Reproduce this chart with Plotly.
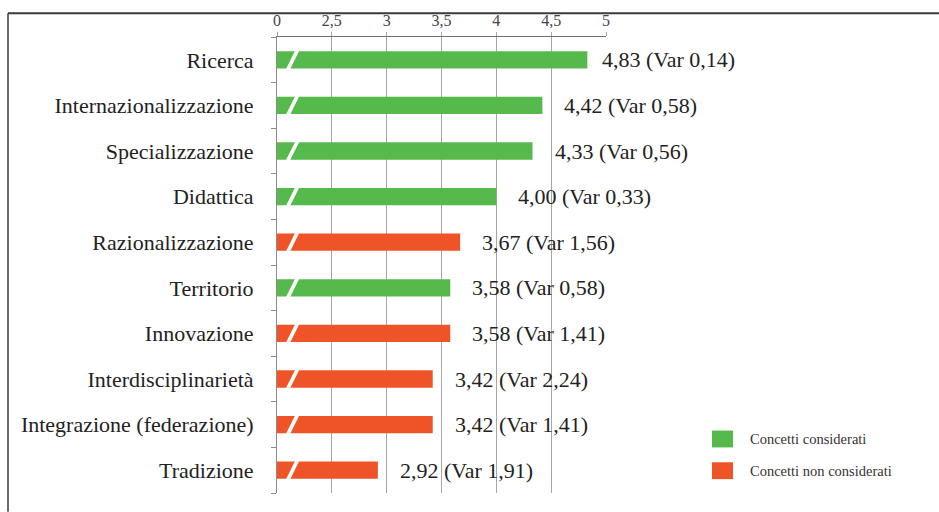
import plotly.graph_objects as go

# Valutazione media dei concetti (scala 1-5) con varianza
categories = [
    "Ricerca",
    "Internazionalizzazione",
    "Specializzazione",
    "Didattica",
    "Razionalizzazione",
    "Territorio",
    "Innovazione",
    "Interdisciplinarietà",
    "Integrazione (federazione)",
    "Tradizione",
]
means = [4.83, 4.42, 4.33, 4.00, 3.67, 3.58, 3.58, 3.42, 3.42, 2.92]
variances = [0.14, 0.58, 0.56, 0.33, 1.56, 0.58, 1.41, 2.24, 1.41, 1.91]
considered = [True, True, True, True, False, True, False, False, False, False]

tick_values = [2.0, 2.5, 3.0, 3.5, 4.0, 4.5, 5.0]
tick_labels = ["0", "2,5", "3", "3,5", "4", "4,5", "5"]

series_names = ["Concetti considerati", "Concetti non considerati"]
GREEN = "#56B94B"
ORANGE = "#EF5429"
FONT = "Liberation Serif"

W, H = 939, 512
L, R, T, B = 277, 333, 33, 19
PW, PH = W - L - R, H - T - B


def px_x(x):
    return (x - L) / PW


def px_y(y):
    return (H - B - y) / PH


def fmt(v):
    return f"{v:.2f}".replace(".", ",")


fig = go.Figure()
positions = list(range(len(categories)))
for flag, name, color in [(True, series_names[0], GREEN), (False, series_names[1], ORANGE)]:
    idx = [i for i, c in enumerate(considered) if c == flag]
    fig.add_trace(go.Bar(
        x=[means[i] for i in idx],
        y=[positions[i] for i in idx],
        orientation="h",
        width=0.38,
        marker=dict(color=color, line=dict(width=0)),
        name=name,
        showlegend=False,
        hoverinfo="skip",
    ))

shapes = []
annotations = []

# white break mark across each bar (axis is interrupted between 0 and 2,5)
h = 0.21
for i in positions:
    shapes.append(dict(
        type="path", xref="x", yref="y",
        path=f"M 2.080 {i + h} L 2.118 {i + h} L 2.205 {i - h} L 2.167 {i - h} Z",
        fillcolor="white", line=dict(width=0), layer="above",
    ))

# value labels
for i, (m, v) in enumerate(zip(means, variances)):
    annotations.append(dict(
        x=m, y=i, xref="x", yref="y",
        text=f"{fmt(m)} (Var {fmt(v)})",
        showarrow=False, xanchor="left", yanchor="middle",
        xshift=13 if m >= 4.7 else 20,
        font=dict(family=FONT, size=22, color="#222222"),
    ))

# legend swatches
for k, (name, color) in enumerate(zip(series_names, [GREEN, ORANGE])):
    top = 430 + k * 32
    shapes.append(dict(
        type="rect", xref="paper", yref="paper",
        x0=px_x(712), x1=px_x(733), y0=px_y(top + 17), y1=px_y(top),
        fillcolor=color, line=dict(width=0),
    ))
    annotations.append(dict(
        x=px_x(748), y=px_y(top + 9), xref="paper", yref="paper",
        text=name, showarrow=False, xanchor="left", yanchor="middle",
        font=dict(family=FONT, size=14.5, color="#333333"),
    ))

# outer frame
shapes.append(dict(type="line", xref="paper", yref="paper",
                   x0=px_x(8), x1=px_x(W), y0=px_y(9), y1=px_y(9),
                   line=dict(color="#3a3a3a", width=2)))
shapes.append(dict(type="line", xref="paper", yref="paper",
                   x0=px_x(8), x1=px_x(8), y0=px_y(9), y1=px_y(H),
                   line=dict(color="#3a3a3a", width=1.5)))

fig.update_layout(
    width=W, height=H,
    margin=dict(l=L, r=R, t=T, b=B, pad=0),
    paper_bgcolor="white", plot_bgcolor="white",
    barmode="overlay",
    shapes=shapes, annotations=annotations,
    font=dict(family=FONT),
    xaxis=dict(
        side="top", range=[2, 5], tickvals=tick_values, ticktext=tick_labels,
        showgrid=True, gridcolor="#A6A6A6", gridwidth=1,
        showline=True, linecolor="#707070", linewidth=1,
        ticks="outside", ticklen=4, tickcolor="#A6A6A6",
        tickfont=dict(family=FONT, size=16, color="#444444"),
        zeroline=False, fixedrange=True,
    ),
    yaxis=dict(
        range=[9.5, -0.5], tickvals=positions, ticktext=categories,
        showgrid=False, zeroline=False,
        showline=True, linecolor="#8C8C8C", linewidth=1,
        ticks="", ticklabelstandoff=18,
        tickfont=dict(family=FONT, size=22, color="#222222"),
        minor=dict(tickvals=[p - 0.5 for p in positions] + [len(positions) - 0.5],
                   ticks="outside", ticklen=5, tickcolor="#8C8C8C", showgrid=False),
        fixedrange=True,
    ),
)

fig.write_html("out.html")
